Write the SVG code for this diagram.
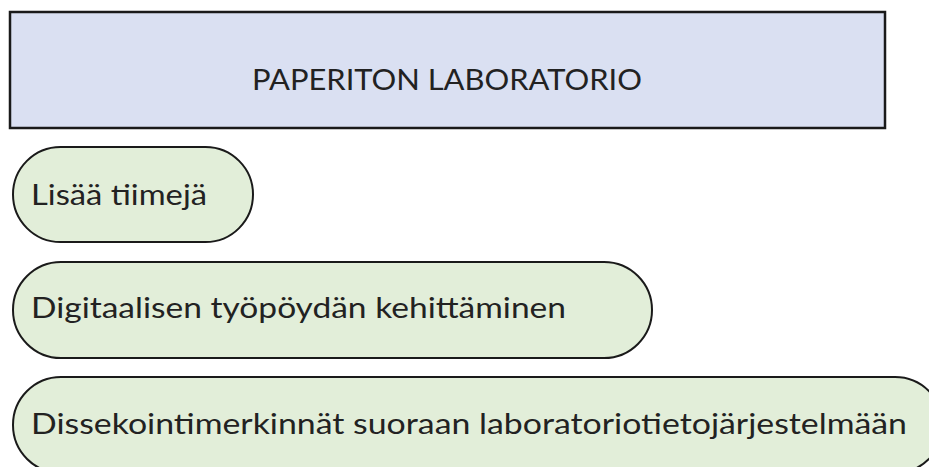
<svg xmlns="http://www.w3.org/2000/svg" width="929" height="467" viewBox="0 0 929 467">
  <style>
    .title { fill: #dae0f2; stroke: #1a1a1a; stroke-width: 2.5; }
    .pill { fill: #e2eed9; stroke: #1a1a1a; stroke-width: 2; }
    text { font-family: Lato, "Open Sans", "Liberation Sans", sans-serif; font-size: 28px; fill: #222222; }
    .head { font-size: 29px; }
  </style>
  <rect width="929" height="467" fill="#ffffff"/>
  <g id="title">
    <rect class="title" x="10" y="12" width="875" height="116"/>
    <text class="head" x="252" y="90" textLength="390" lengthAdjust="spacingAndGlyphs">PAPERITON LABORATORIO</text>
  </g>
  <g id="item-teams">
    <rect class="pill" x="13" y="147" width="240" height="95" rx="47.5" ry="47.5"/>
    <text x="31" y="205" textLength="176" lengthAdjust="spacingAndGlyphs">Lisää tiimejä</text>
  </g>
  <g id="item-desktop">
    <rect class="pill" x="13" y="262" width="639" height="96" rx="48" ry="48"/>
    <text x="31" y="318" textLength="535" lengthAdjust="spacingAndGlyphs">Digitaalisen työpöydän kehittäminen</text>
  </g>
  <g id="item-lis">
    <rect class="pill" x="13" y="377" width="930" height="96" rx="48" ry="48"/>
    <text x="31" y="434" textLength="876" lengthAdjust="spacingAndGlyphs">Dissekointimerkinnät suoraan laboratoriotietojärjestelmään</text>
  </g>
  <g id="connectors"/>
</svg>
